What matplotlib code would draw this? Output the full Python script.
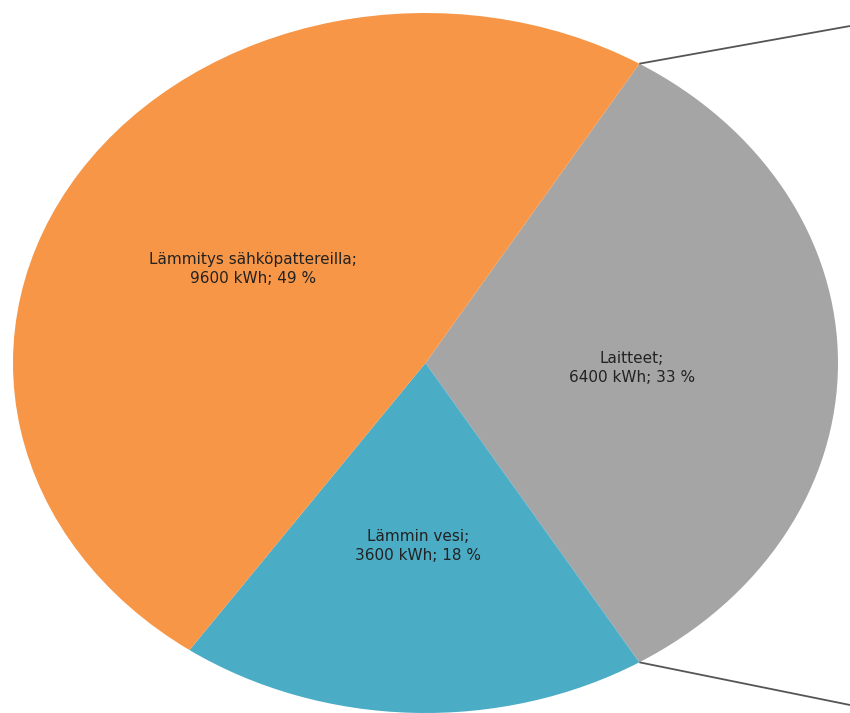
import matplotlib
matplotlib.use("Agg")
import matplotlib.pyplot as plt
import numpy as np

# Data
categories = ["Laitteet", "Lämmin vesi", "Lämmitys sähköpattereilla"]
values_kwh = [6400, 3600, 9600]
colors = ["#A5A5A5", "#4BACC6", "#F79646"]

W, H = 850, 713
cx, cy = 425.5, 363.0   # pie centre in pixels (from top-left)
rx, ry = 412.5, 350.0   # ellipse radii in pixels

def to_data(px, py):
    return (px - cx) / rx, (cy - py) / ry

fig = plt.figure(figsize=(W / 100, H / 100), dpi=100)
ax = fig.add_axes([0, 0, 1, 1])

total = sum(values_kwh)
start = 360 * values_kwh[0] / total / 2
wedges, _ = ax.pie(values_kwh, colors=colors, startangle=start, counterclock=False,
                   radius=1, center=(0, 0), wedgeprops=dict(linewidth=0))
ax.set_aspect("auto")
ax.set_xlim(to_data(0, 0)[0], to_data(W, 0)[0])
ax.set_ylim(to_data(0, H)[1], to_data(0, 0)[1])
ax.axis("off")

# connector lines from the grey wedge (bar-of-pie style)
g = wedges[0]
for ang, end in ((g.theta2, (850, 26)), (g.theta1, (850, 705))):
    x0, y0 = np.cos(np.radians(ang)), np.sin(np.radians(ang))
    x1, y1 = to_data(*end)
    ax.plot([x0, x1], [y0, y1], color="#555555", lw=1.3, solid_capstyle="butt")

label_pos = {"Laitteet": (632, 368),
             "Lämmin vesi": (418, 546),
             "Lämmitys sähköpattereilla": (253, 269)}
for name, v in zip(categories, values_kwh):
    pct = round(100 * v / total)
    x, y = to_data(*label_pos[name])
    ax.text(x, y, f"{name};\n{v} kWh; {pct} %", ha="center", va="center",
            fontsize=11, family="DejaVu Sans", color="#222222", linespacing=1.35)

fig.savefig("out.png", dpi=100)
